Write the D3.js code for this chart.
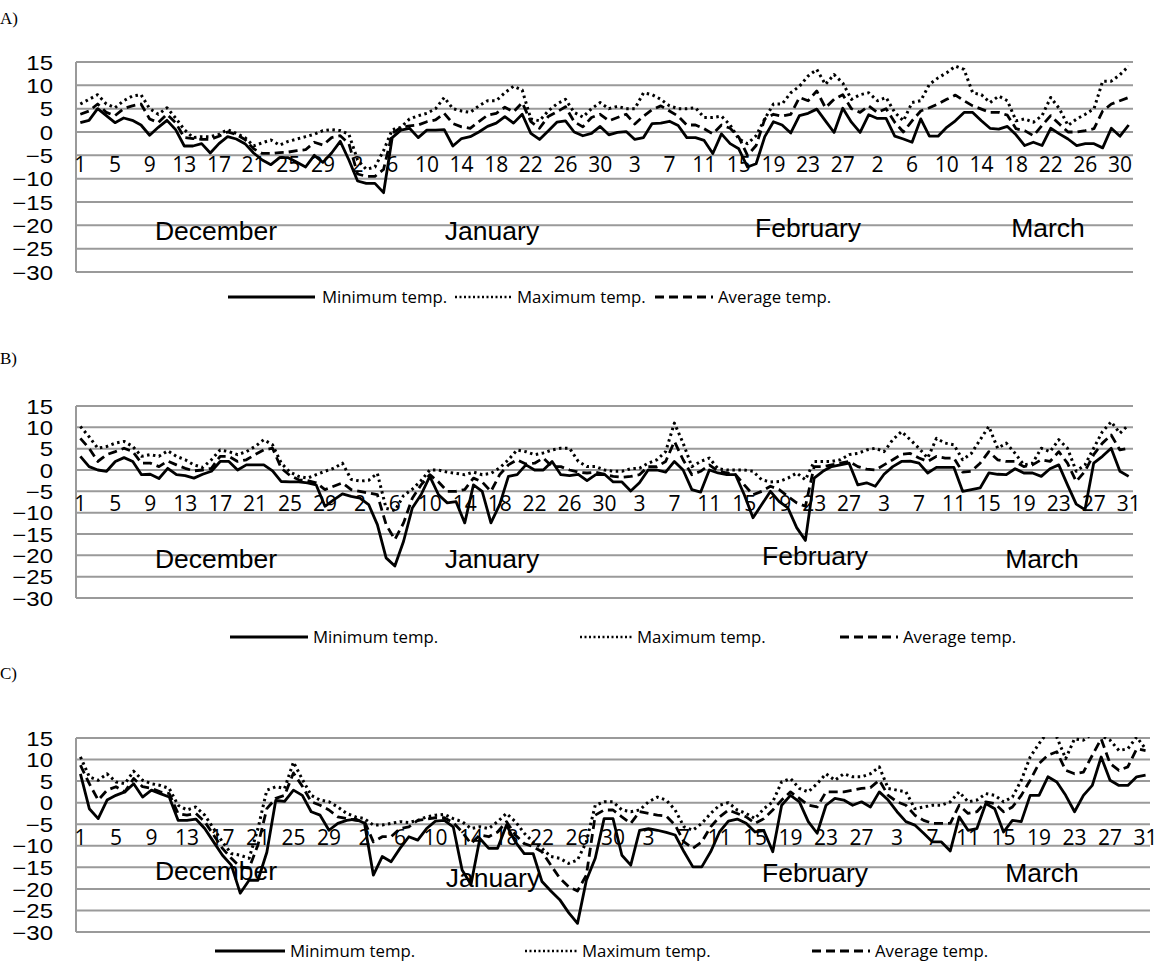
<!DOCTYPE html>
<html>
<head>
<meta charset="utf-8">
<script src="https://cdn.jsdelivr.net/npm/d3@7"></script>
<style>
  body { margin: 0; background: #fff; }
</style>
</head>
<body>
<svg id="chart" width="1163" height="969"></svg>
<script>
// winter daily temperatures (Dec - Mar), three stations
const months = ["December", "January", "February", "March"]
const monthDaysA = [31, 31, 29, 31]
const monthDaysBC = [31, 31, 28, 31]
const yTicks = [15, 10, 5, 0, -5, -10, -15, -20, -25, -30]
const seriesNames = ["Minimum temp.", "Maximum temp.", "Average temp."]

const minA = [2, 2.5, 5, 3.5, 2, 3, 2.5, 1.5, -0.7, 1, 2.5, 0.5, -3, -3, -2.5, -4.5, -2.5, -1, -1.5, -2.5,
  -4.5, -6, -7, -5.5, -5.5, -6.5, -7.5, -5, -6.5, -4.5, -2, -6, -10.5, -11, -11, -13, -1.2, 0.4, 0.8, -1.2,
  0.4, 0.4, 0.5, -3, -1.4, -1, 0, 1.2, 1.9, 3.3, 1.9, 3.8, -0.3, -1.6, 0.2, 2.1, 2.4, 0, -0.8, -0.3,
  1.2, -0.6, -0.1, 0.1, -1.6, -1.2, 1.8, 1.9, 2.3, 1.4, -1.2, -1.2, -1.8, -4.6, -0.4, -2.5, -3.6, -7.5, -6.8, -1,
  2.2, 1.5, -0.2, 3.5, 4, 4.9, 2.4, -0.1, 5.1, 2.1, -0.1, 3.7, 2.9, 2.9, -0.9, -1.5, -2.2, 2.8, -0.9, -0.9,
  1, 2.4, 4.2, 4.2, 2.4, 0.8, 0.6, 1.2, -0.6, -2.9, -2.2, -2.9, 0.8, -0.4, -1.5, -2.9, -2.5, -2.5, -3.4, 0.8,
  -0.9, 1.5]
const maxA = [6, 7, 8, 6, 5.2, 6.7, 7.7, 8, 5, 3.8, 5.2, 3, 0.5, -1.2, -1, -1, -0.5, 0.5, -0.3, -1.2,
  -3, -2.3, -1.7, -2.8, -2, -1.5, -1, -0.5, 0.3, 0.5, 0.3, -0.5, -6, -8, -7.5, -4, 0.5, 1, 2.8, 3.5,
  4, 5, 7.4, 5, 4.5, 4.2, 5.6, 6.7, 6.7, 8.4, 9.8, 9, 2.8, 2.4, 4.5, 6, 7, 4.2, 3.2, 5,
  6.3, 5, 5.5, 5, 5, 8.4, 8, 7, 5.6, 5, 5, 5.2, 3.1, 3.1, 3.4, 1.5, -1.5, -2.5, -0.8, 2.8,
  6, 6, 8.4, 9.8, 12, 13.4, 10.2, 12.3, 10.5, 7, 8, 8.4, 6.7, 7.4, 4.2, 2.4, 6.3, 6.7, 10.2, 11.6,
  12.7, 14.1, 13.4, 8.4, 8, 6.3, 7.7, 6.7, 2.4, 2.8, 2.1, 3.5, 7.4, 5, 1.4, 2.8, 3.8, 5, 10.9, 10.9,
  12.3, 14.1]
const avgA = [3.8, 4.5, 6, 4.2, 3.5, 5, 5.6, 6, 2.8, 2, 3.8, 2, -1.2, -1.4, -1.6, -1.6, -0.9, 0, -0.5, -1.6,
  -3.6, -4.6, -4.6, -4.4, -4.3, -4, -3.8, -2.2, -2.8, -1.2, -0.8, -2.5, -9, -9.5, -9.5, -8, -0.3, 1, 1.3, 1.5,
  2.2, 2.6, 4, 1.8, 1.1, 0.8, 2.2, 3.6, 4, 5.3, 4.3, 6.3, 2.2, 0.8, 3.3, 4.3, 5.4, 2.2, 1.1, 3.1,
  3.8, 2.4, 3.1, 3.8, 1.7, 3.4, 4.8, 5.6, 4.5, 3.4, 1.5, 1.5, 0.7, -0.4, 1.5, 0.8, -1.1, -5, -2.9, 2.8,
  3.8, 3.4, 3.8, 7.4, 6.7, 8.8, 5.2, 7, 8, 5, 4.2, 5.6, 4.2, 5, 2.1, 0, 2.4, 4.5, 5.2, 6,
  7, 7.9, 6.7, 5.6, 4.9, 4.2, 4.2, 3.6, 0.7, 0.3, -0.8, 1.4, 3.5, 1.7, 0, 0, 0.3, 0.7, 4.5, 6,
  6.7, 7.4]

const minB = [3.2, 0.8, 0, -0.3, 2, 2.9, 2, -1.1, -1, -2, 0.4, -1.1, -1.3, -1.9, -1, -0.3, 2, 2, 0, 1.2,
  1.2, 1.2, -0.2, -2.7, -2.8, -2.8, -3, -3.5, -8.5, -7, -5.6, -6.2, -6.6, -8.1, -12.8, -20.6, -22.5, -16.7, -8.9, -5.8,
  -1.5, -5.8, -7.7, -7.4, -12.4, -3.5, -5, -12.4, -8.1, -1.5, -1.1, 1.2, 0, 0, 2, -1.1, -1.3, -1, -2.5, -1.1,
  -1, -2.8, -2.8, -4.9, -3, 0, 0, -0.5, 2, 0, -4.6, -5.2, 0, -0.7, -1.1, -1.1, -5.8, -11.2, -8.1, -5,
  -7.4, -8.9, -13.5, -16.5, -1.9, -0.3, 0.8, 1.2, 1.6, -3.5, -3, -3.8, -1, 0.8, 2, 2.1, 1.6, -0.7, 0.6, 0.6,
  0.6, -5, -4.6, -4.2, -0.7, -1, -1.1, 0.3, -0.7, -0.7, -1.5, 0.3, 1.2, -3.5, -8, -9.3, 1.6, 3.2, 5.1, -0.3,
  -1.5]
const maxB = [10.2, 7.8, 5.1, 5.5, 6.3, 6.7, 5.5, 3.2, 3.6, 3.2, 4.5, 3.2, 2.4, 1.2, 0.6, 2.4, 4.7, 4.3, 3.6, 4.3,
  5.5, 7.1, 5.9, 1.6, -0.5, -1.5, -1.9, -1.1, -0.3, 0.4, 1.6, -2.2, -2.6, -2.4, -0.8, -9, -9.5, -6, -4.5, -2.5,
  0, 0, -0.5, -0.8, -1.1, -0.5, -1.1, -0.8, 0.5, 2.4, 4.7, 4.3, 3.6, 4, 4.7, 5.1, 5.1, 2, 0.8, 0.8,
  0, -0.3, -0.3, 0.3, 0.4, 1.6, 2.4, 4.3, 11, 6.3, 0.8, 2, 2.8, 0.3, 0, 0, 0, -0.3, -2.3, -2.8,
  -2.7, -1.9, -0.7, -2.3, 2, 2, 2, 2.4, 3.6, 3.9, 4.7, 5.1, 4.3, 7.1, 9, 7.1, 5.1, 2.8, 7.4, 6.3,
  5.9, 2.4, 3.9, 7.1, 10.2, 5.1, 6.3, 3.9, 1.2, 1.6, 5.1, 4.3, 7.1, 5.1, -0.3, 1.2, 5.1, 9, 11.3, 8.6,
  10.6]
const avgB = [7.4, 5.1, 2, 3.6, 4.3, 5.1, 4.3, 1.6, 1.6, 0.8, 2.1, 1.2, 0.4, -0.2, 0, 0.4, 3.2, 3.2, 2, 2.4,
  3.6, 4.7, 5.1, 0.4, -1.3, -2.3, -2.5, -3, -4.6, -3.8, -3, -4.6, -5, -5.4, -5.8, -12.8, -16.3, -12.4, -6.6, -3.5,
  -1.1, -2.8, -5, -5, -4.6, -1.9, -2.8, -5, -1.1, 1.2, 2.4, 1.4, 1.6, 2.8, 0.8, 0.8, 0, -0.5, -0.7, -0.5,
  -1, -1.5, -1.7, -1.5, -1.1, 0.8, 0.8, 2, 6.7, 2.4, -1.1, -0.3, 1.2, -0.3, -0.7, -1.1, -3.5, -5.8, -5, -3.8,
  -4.6, -6.2, -7.7, -8.5, 0.8, 0.8, 1.2, 1.6, 2, 0.8, 0.2, 0, 1.2, 2.4, 3.7, 3.9, 2.8, 2, 3.2, 2.8,
  2.8, -0.5, -0.3, 1.6, 4.3, 2.4, 2, 2, 0.8, 1.2, 2.4, 2, 4.3, 1.6, -2.7, -0.3, 3.6, 6.3, 8.2, 4.7,
  5.1]

const minC = [6.7, -1.4, -3.7, 0.6, 1.7, 2.5, 4.4, 1.3, 2.9, 2.1, 1.3, -4.1, -4.1, -3.8, -6, -9.1, -12.2, -14.5, -21, -18,
  -18, -11.5, 0.5, 0.3, 2.9, 1.7, -2.1, -2.9, -6.4, -4.8, -4.1, -3.8, -4.8, -16.8, -12.5, -13.7, -10.6, -7.9, -8.7, -6,
  -4.3, -4.1, -5.6, -15.6, -19, -8.3, -10.6, -10.6, -5.2, -9.1, -11.8, -11.8, -18.3, -20.5, -22.5, -25.5, -28, -18, -12.9, -3.7,
  -3.7, -12.2, -14.5, -6.4, -6, -6.4, -6.9, -7.5, -11.4, -14.9, -14.9, -11.4, -6.8, -4.3, -3.8, -4.8, -6.8, -6.5, -11.4, -0.6,
  1.7, 0.2, -4.4, -7.1, -0.6, 1, 0.6, -0.6, 0.2, -1, 2.5, 0.6, -2.1, -4.4, -5.2, -7.1, -9.1, -9.1, -11.2, -3.3,
  -6.4, -6, -0.2, -1.4, -6.8, -4.1, -4.4, 1.7, 1.7, 6, 4.8, 1.7, -2.1, 1.7, 4, 10.6, 5.2, 4, 4, 6,
  6.4]
const maxC = [10.6, 6, 5.2, 6.7, 4.8, 4.4, 7.3, 5.2, 4.4, 4, 3.3, -0.6, -1.7, -1, -2.9, -6, -9.1, -11.8, -12.2, -12.9,
  -6, 2.9, 3.7, 3.3, 9.4, 5.4, 1.7, 0.6, 0.2, -1, -2.5, -3.3, -3.7, -5.2, -5.2, -4.8, -4.4, -4.6, -4.1, -3.3,
  -2.9, -2.7, -3.7, -4.4, -6, -5.6, -6, -4.4, -2.5, -4.4, -7.1, -9.1, -10.6, -12.5, -12.9, -14.1, -13.3, -9.1, -0.6, 0.2,
  0.2, -1.7, -2.1, -1.7, 0.2, 1.3, 0.6, -1.7, -5.6, -6.4, -4.8, -2.5, -0.6, 0, -1.7, -2.5, -3.7, -1.4, 0.2, 4.8,
  5.6, 3.3, 2.5, 4.4, 6.7, 5.2, 6.7, 6, 6, 6.7, 8.3, 3.3, 2.9, 2.5, -1.4, -1, -0.6, -0.6, 0.2, 2.5,
  0.2, 0.6, 2.1, 1.7, 0.2, 1.3, 5.2, 10.6, 13.7, 16.4, 15.2, 10.2, 14.8, 14.5, 16, 15.5, 14.5, 12.1, 12.5, 15.2,
  12.5]
const avgC = [8.7, 4.4, 0.6, 2.9, 3.7, 2.5, 5.6, 3.7, 3.3, 2.5, 2.1, -2.5, -2.9, -2.5, -4.4, -7.5, -10.6, -12.9, -14.9, -15.2,
  -9.8, -1.4, 1, 1.7, 6.9, 3.8, 0.2, -0.6, -1.7, -3.3, -3.7, -4.1, -4.3, -9.1, -7.9, -7.9, -6, -5.6, -4.1, -3.8,
  -3.5, -3.5, -4.6, -6.8, -9.5, -7.5, -7.9, -6.8, -4.4, -7.5, -9.5, -10.2, -11.4, -14.5, -17.5, -19.5, -20.5, -16.8, -2.9, -1.7,
  -1.7, -3.3, -4.8, -2.1, -2.5, -2.9, -3.1, -5.2, -9.1, -10.6, -9.1, -5.6, -3.3, -1.7, -2.5, -3.3, -4.8, -3.7, -1.7, 0.6,
  2.5, 1, -0.6, -1, 2.5, 2.5, 2.5, 2.9, 3.3, 3.5, 5.2, 1.7, 0.2, -0.6, -2.9, -4.1, -4.8, -4.8, -4.8, -0.6,
  -2.5, -2.1, 0.2, -0.2, -2.1, -1, 1.7, 5.2, 9.1, 11, 11.8, 7.5, 6.7, 7.1, 11, 14.8, 9.1, 7.5, 8.3, 12.5,
  12.1]

var panels = [
  { letter: "A)", letterY: 18, monthDays: monthDaysA, series: [minA, maxA, avgA],
    left: 76, right: 1133, top: 62, bottom: 272, tickDy: 9,
    monthPos: [[216, 230], [492, 230], [808, 227], [1048, 227]],
    legendY: 297, legendPos: [[228, 315, 322], [455, 512, 517], [655, 713, 718]] },
  { letter: "B)", letterY: 358, monthDays: monthDaysBC, series: [minB, maxB, avgB],
    left: 76, right: 1133, top: 406, bottom: 598, tickDy: 12,
    monthPos: [[216, 558], [492, 558], [815, 555], [1042, 558]],
    legendY: 637, legendPos: [[230, 308, 313], [580, 632, 637], [840, 898, 903]] },
  { letter: "C)", letterY: 673, monthDays: monthDaysBC, series: [minC, maxC, avgC],
    left: 76, right: 1150, top: 738, bottom: 932, tickDy: 13,
    monthPos: [[216, 870], [493, 877], [815, 872], [1042, 872]],
    legendY: 951, legendPos: [[215, 285, 290], [525, 578, 582], [812, 870, 875]] }
]

var dashes = [null, "2.5,3.5", "9,5"]
var svg = d3.select("#chart")

panels.forEach(function(p, k) {
  // day number for every category, from month lengths
  var days = []
  p.monthDays.forEach(m => d3.range(1, m + 1).forEach(d => days.push(d)))
  var n = days.length

  var x = d3.scaleBand().domain(d3.range(n)).range([p.left, p.right])
  var cx = i => x(i) + x.bandwidth() / 2
  var y = d3.scaleLinear().domain([-30, 15]).range([p.bottom, p.top])

  var g = svg.append("g")

  g.append("text")
    .attr("x", 0).attr("y", p.letterY)
    .attr("dy", "0.35em")
    .style("font-family", "Liberation Serif")
    .style("font-size", "17px")
    .text(p.letter)

  // horizontal gridlines
  g.selectAll(".grid")
    .data(yTicks)
    .enter().append("line")
      .attr("x1", p.left).attr("x2", p.right)
      .attr("y1", d => y(d)).attr("y2", d => y(d))
      .attr("stroke", "#9a9a9a")
      .attr("stroke-width", 2)

  g.append("line")
    .attr("x1", p.left).attr("x2", p.left)
    .attr("y1", p.top).attr("y2", p.bottom)
    .attr("stroke", "#9a9a9a")
    .attr("stroke-width", 2)

  // y axis, labels a bit wide like the original
  var yAxis = d3.axisLeft(y).tickValues(yTicks).tickSize(0).tickPadding(0)
  var ya = g.append("g")
    .attr("transform", "translate(" + (p.left - 23) + ",0)")
    .call(yAxis)
  ya.select(".domain").remove()
  ya.selectAll("text")
    .attr("x", 0)
    .attr("dy", "0.36em")
    .attr("transform", "scale(1.2,1)")
    .style("font-family", "Liberation Sans")
    .style("font-size", "20px")
    .attr("fill", "#000")

  // day labels, every 4th day
  var xAxis = d3.axisBottom(x)
    .tickValues(d3.range(0, n, 4))
    .tickFormat(i => days[i])
    .tickSize(0).tickPadding(0)
  var xa = g.append("g")
    .attr("transform", "translate(0," + (y(-5) + p.tickDy) + ")")
    .call(xAxis)
  xa.select(".domain").remove()
  xa.selectAll("text")
    .attr("y", 0)
    .attr("dy", "0.36em")
    .style("font-family", "Open Sans")
    .style("font-size", "21px")
    .attr("fill", "#000")

  // month labels
  g.selectAll(".month")
    .data(months)
    .enter().append("text")
      .attr("x", (d, j) => p.monthPos[j][0])
      .attr("y", (d, j) => p.monthPos[j][1])
      .attr("dy", "0.36em")
      .attr("text-anchor", "middle")
      .style("font-family", "Liberation Sans")
      .style("font-size", "26.5px")
      .text(d => d)

  // series lines
  svg.append("clipPath").attr("id", "clip" + k)
    .append("rect")
      .attr("x", p.left - 3).attr("y", p.top - 1)
      .attr("width", p.right - p.left + 6).attr("height", p.bottom - p.top + 2)

  var line = d3.line().x((d, i) => cx(i)).y(d => y(d))

  p.series.forEach(function(s, j) {
    g.append("path")
      .datum(s)
      .attr("clip-path", "url(#clip" + k + ")")
      .attr("d", line)
      .attr("fill", "none")
      .attr("stroke", "#000")
      .attr("stroke-width", j == 1 ? 3 : 2.8)
      .attr("stroke-dasharray", dashes[j])
      .attr("stroke-linejoin", "round")
  })

  // legend
  p.legendPos.forEach(function(pos, j) {
    g.append("line")
      .attr("x1", pos[0]).attr("x2", pos[1])
      .attr("y1", p.legendY).attr("y2", p.legendY)
      .attr("stroke", "#000")
      .attr("stroke-width", j == 1 ? 2.5 : 2.8)
      .attr("stroke-dasharray", j == 1 ? "2,2.5" : dashes[j])
    g.append("text")
      .attr("x", pos[2]).attr("y", p.legendY)
      .attr("dy", "0.36em")
      .style("font-family", "Open Sans")
      .style("font-size", "16.8px")
      .text(seriesNames[j])
  })
})
</script>
</body>
</html>
